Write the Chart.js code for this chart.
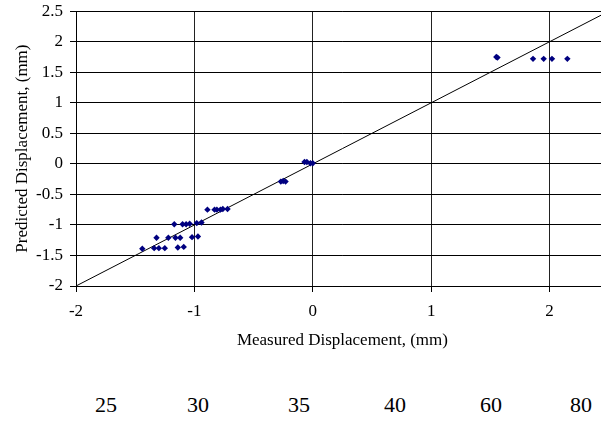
<!DOCTYPE html>
<html>
<head>
<meta charset="utf-8">
<script src="https://cdn.jsdelivr.net/npm/chart.js@4/dist/chart.umd.min.js"></script>
<style>
  html, body { margin: 0; padding: 0; background: #fff; overflow: hidden; width: 601px; height: 423px; }
  #wrap { position: absolute; left: 0; top: -6px; width: 612px; height: 366px; }
  .bl { position: absolute; top: 394px; font-family: "Liberation Serif"; font-size: 22px; line-height: 22px; color: #000; transform: translateX(-50%); white-space: nowrap; }
</style>
</head>
<body>
<div id="wrap"><canvas id="c" width="612" height="366"></canvas></div>
<div id="bottom"></div>
<script>
// ---- data ----
const measured = [
  -1.44, -1.34, -1.30, -1.25, -1.32, -1.22, -1.16, -1.12, -1.14, -1.09,
  -1.17, -1.10, -1.07, -1.04, -1.02, -0.97, -0.98, -0.94,
  -0.89, -0.83, -0.81, -0.78, -0.76, -0.72,
  -0.27, -0.25, -0.23,
  -0.07, -0.05, -0.02, 0.00,
  1.55, 1.56, 1.86, 1.95, 2.02, 2.15
];
const predicted = [
  -1.39, -1.38, -1.38, -1.38, -1.21, -1.21, -1.21, -1.21, -1.37, -1.36,
  -0.99, -0.99, -0.99, -0.98, -1.20, -1.19, -0.97, -0.96,
  -0.75, -0.75, -0.75, -0.75, -0.74, -0.74,
  -0.29, -0.28, -0.29,
  0.03, 0.03, 0.01, 0.01,
  1.75, 1.74, 1.72, 1.72, 1.72, 1.72
];
const lineX = [-2, 2.5];
const lineY = [-2, 2.5];
const xTitle = "Measured Displacement, (mm)";
const yTitle = "Predicted Displacement, (mm)";
const bottomLabels = ["25", "30", "35", "40", "60", "80"];

// ---- bottom text row ----
const bottomX = [106, 198, 299, 395, 491, 581];
const bottom = document.getElementById('bottom');
bottomLabels.forEach((t, i) => {
  const d = document.createElement('div');
  d.className = 'bl';
  d.style.left = bottomX[i] + 'px';
  d.textContent = t;
  bottom.appendChild(d);
});

// ---- chart ----
const fam = 'Liberation Serif';
const fmt = v => String(Math.round(v * 10) / 10);
new Chart(document.getElementById('c'), {
  type: 'scatter',
  data: {
    datasets: [
      {
        data: measured.map((x, i) => ({ x: x, y: predicted[i] })),
        pointStyle: 'rectRot',
        pointRadius: 3.2,
        pointHoverRadius: 3.2,
        backgroundColor: '#000080',
        borderColor: '#000080',
        borderWidth: 0,
        showLine: false
      },
      {
        type: 'line',
        data: lineX.map((x, i) => ({ x: x, y: lineY[i] })),
        borderColor: '#000',
        borderWidth: 1,
        pointRadius: 0,
        fill: false
      }
    ]
  },
  options: {
    responsive: false,
    animation: false,
    events: [],
    layout: { padding: { top: 0, right: 2, bottom: 0, left: 0 } },
    plugins: { legend: { display: false }, tooltip: { enabled: false } },
    scales: {
      x: {
        type: 'linear',
        min: -2, max: 2.5,
        afterFit: s => { s.height = 74; },
        ticks: { stepSize: 1, includeBounds: false, color: '#000', font: { family: fam, size: 17 }, padding: 9, maxRotation: 0, callback: fmt },
        grid: { color: '#222', lineWidth: 1, drawTicks: true, tickLength: 6, tickColor: '#000' },
        border: { display: true, color: '#000', width: 1 },
        title: { display: true, text: xTitle, color: '#000', font: { family: fam, size: 17 }, padding: { top: 0, bottom: 9 } }
      },
      y: {
        type: 'linear',
        min: -2, max: 2.5,
        afterFit: s => { s.width = 76; },
        ticks: { stepSize: 0.5, color: '#000', font: { family: fam, size: 17 }, padding: 7, callback: fmt },
        grid: { color: '#000', lineWidth: 1, drawTicks: true, tickLength: 6, tickColor: '#000' },
        border: { display: true, color: '#000', width: 1 },
        title: { display: true, text: yTitle, color: '#000', font: { family: fam, size: 17 }, padding: { top: 12, bottom: 0 } }
      }
    }
  }
});
</script>
</body>
</html>
